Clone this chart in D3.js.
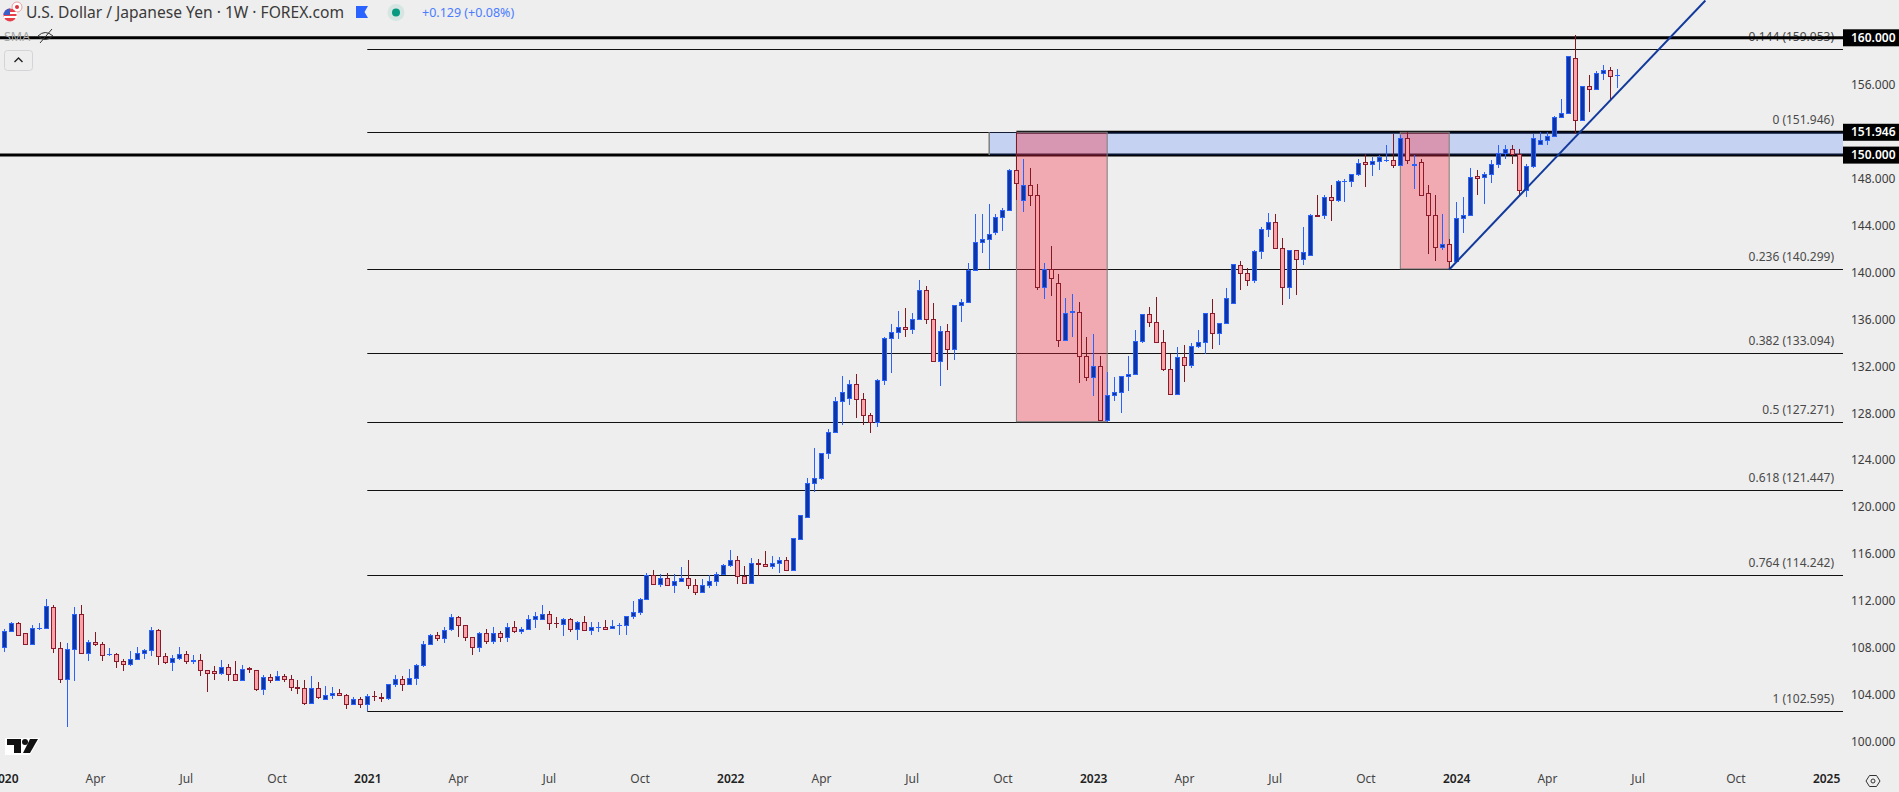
<!DOCTYPE html>
<html>
<head>
<meta charset="utf-8">
<script src="https://d3js.org/d3.v7.min.js"></script>
<style>
html, body { margin: 0; padding: 0; background: #eeeeee; overflow: hidden; }
text { font-family: "Noto Sans", sans-serif; }
</style>
</head>
<body>
<div id="chart-area"></div>
<script>
var width = 1899;
var height = 792;
var axisX = 1843;

// weekly USD/JPY candles, one entry per bar
var opens = [108.05,109.41,110.12,109.27,108.33,109.67,109.67,111.49,107.99,105.32,
107.90,110.89,107.53,108.50,108.33,107.45,107.48,106.88,106.60,107.02,
107.53,107.82,109.52,107.31,106.77,107.11,107.48,106.88,106.97,106.11,
106.03,105.83,106.37,105.77,105.23,106.26,106.11,104.46,105.49,105.23,
105.60,105.35,104.63,104.58,103.27,104.58,103.61,103.95,104.15,103.98,
103.19,103.64,103.19,103.92,103.81,103.70,104.92,105.32,104.92,105.43,
106.51,108.30,109.10,108.81,109.58,110.63,109.95,108.90,108.05,109.27,
108.56,109.27,108.90,109.78,109.41,109.58,110.43,110.43,110.89,110.15,
110.01,110.46,109.58,110.21,109.50,109.75,109.78,109.67,109.92,109.92,
110.69,111.03,112.14,114.21,113.42,113.96,113.33,113.67,113.96,113.36,
112.73,113.33,113.67,114.27,115.04,115.49,114.13,113.50,115.26,115.15,
114.95,115.21,115.49,114.60,117.26,119.14,122.03,122.46,124.59,126.38,
129.03,129.28,130.50,129.22,127.85,127.23,130.81,134.39,134.90,135.36,
135.16,136.01,138.51,136.04,132.46,135.02,133.45,137.20,137.46,140.22,
142.58,142.83,143.43,144.71,145.33,148.74,146.19,147.47,146.61,138.77,
140.30,139.11,134.25,136.61,136.64,132.89,131.09,132.00,127.43,129.56,
129.82,131.15,131.35,134.16,136.47,135.78,134.08,131.78,129.65,132.80,
132.12,133.74,134.08,136.55,134.85,135.70,137.40,140.64,139.96,139.36,
141.84,143.71,144.31,142.09,138.77,141.92,141.16,141.50,144.91,144.88,
146.44,146.19,147.75,147.78,148.40,149.37,149.23,149.48,149.54,149.60,
149.14,151.47,149.14,149.43,146.78,144.91,142.15,142.43,140.96,144.62,
144.88,148.18,148.12,148.37,149.23,150.16,150.53,150.11,147.04,149.08,
150.93,151.30,151.67,153.23,153.57,158.29,152.95,155.90,155.62,157.01,
157.27,156.79];

var highs = [109.61,110.21,110.21,109.27,109.95,110.15,112.17,111.68,108.53,108.44,
111.51,111.68,108.67,109.38,108.50,108.02,107.56,107.05,107.76,108.10,
107.90,109.81,109.61,107.56,107.42,108.10,107.73,107.42,107.51,106.11,
106.48,106.97,106.62,106.91,106.57,106.40,106.11,105.69,105.77,106.06,
105.77,105.69,105.26,105.29,105.63,105.12,104.75,104.69,104.49,104.07,
103.78,103.78,104.07,104.35,104.12,104.92,105.69,105.60,106.20,106.62,
108.61,109.18,109.38,109.81,110.89,110.75,109.95,108.90,109.38,109.64,
109.81,109.47,110.12,110.32,109.81,110.83,111.09,111.68,111.17,110.66,
110.55,110.55,110.29,110.75,110.23,110.23,110.40,110.40,110.12,110.72,
112.02,112.25,114.38,114.67,114.33,114.38,114.33,114.92,115.52,113.90,
113.90,114.21,114.50,115.15,116.37,115.86,115.01,115.66,115.58,116.29,
115.86,115.78,115.78,117.32,119.36,122.43,125.05,124.62,126.67,129.37,
131.21,130.79,131.36,129.73,128.05,130.92,134.53,135.56,136.75,137.00,
136.55,139.39,138.88,137.43,135.47,135.56,137.23,137.69,140.84,145.02,
144.94,145.87,144.94,145.45,148.83,151.95,149.71,148.86,147.55,140.81,
142.26,139.88,137.86,138.20,137.49,134.53,134.76,132.89,131.52,131.12,
131.18,132.91,135.13,136.47,137.09,137.94,135.13,133.06,133.60,133.77,
134.02,135.10,136.55,137.77,135.70,138.68,140.73,140.93,140.39,141.95,
143.91,145.08,144.94,142.97,141.92,141.92,143.91,144.99,146.56,146.64,
147.41,147.89,148.00,148.40,149.71,150.11,149.88,149.97,150.82,151.81,
151.73,151.95,149.97,149.71,147.49,146.56,144.94,142.89,145.96,146.47,
148.86,148.69,148.60,149.62,150.90,150.82,150.82,150.53,149.20,151.81,
152.01,152.01,153.32,154.80,158.49,160.20,155.90,156.79,157.16,157.72,
157.47,157.38];

var lows = [107.62,109.41,109.07,108.33,108.33,109.55,109.67,107.53,104.98,101.22,
105.15,107.53,106.91,108.19,106.91,107.28,106.31,106.00,106.48,107.02,
107.08,107.33,106.57,106.65,106.06,106.99,106.65,106.65,105.63,104.21,
105.29,105.72,105.15,105.23,105.23,105.83,104.29,104.00,104.98,105.23,
105.06,104.35,104.04,103.16,103.19,103.64,103.61,103.67,103.87,102.82,
103.19,102.90,102.60,103.50,103.36,103.58,104.63,104.35,104.86,104.86,
106.34,108.30,108.61,108.39,109.41,108.95,108.61,107.42,107.62,108.36,
108.36,108.53,108.53,109.30,109.21,109.58,109.69,110.40,109.55,109.69,
109.04,109.38,108.70,109.47,109.13,109.38,109.55,109.64,109.13,109.13,
110.49,110.83,112.11,113.39,113.22,113.30,112.71,113.59,113.05,112.54,
112.73,113.13,113.30,114.24,114.92,113.47,113.47,113.50,114.16,114.92,
114.75,114.41,114.58,114.60,117.26,119.14,121.24,122.26,124.05,126.30,
126.95,128.66,127.55,127.03,126.35,126.86,130.44,131.46,134.28,134.53,
134.79,136.01,135.56,132.46,130.35,131.72,132.57,135.81,137.46,140.22,
141.69,140.33,143.23,143.57,145.33,146.21,145.11,145.70,138.46,137.69,
138.03,133.60,134.14,134.53,130.53,130.78,129.50,127.43,127.23,129.00,
128.05,129.85,131.35,133.94,135.33,134.05,131.58,129.65,129.65,130.64,
131.83,133.54,133.03,133.51,133.77,135.70,137.40,138.46,138.80,139.08,
141.18,143.00,142.09,137.26,137.69,138.11,140.67,141.50,144.71,144.51,
144.42,146.04,145.96,147.32,148.26,147.32,148.18,148.77,149.37,148.86,
149.14,149.20,147.15,146.58,141.61,140.93,141.87,140.25,140.90,143.40,
144.88,146.64,145.87,147.66,148.94,149.71,149.20,146.56,146.47,148.94,
150.93,150.82,151.64,153.23,153.57,151.81,152.89,153.66,155.56,156.36,
154.57,155.76];

var closes = [109.44,110.12,109.07,108.33,109.69,109.69,111.57,107.99,105.32,107.90,
110.89,107.53,108.50,108.30,107.36,107.48,106.85,106.62,107.05,107.56,
107.82,109.52,107.28,106.77,107.14,107.48,106.85,106.97,106.09,105.86,
105.83,106.37,105.77,105.23,106.20,106.20,104.46,105.49,105.26,105.60,
105.32,104.63,104.58,103.27,104.58,103.78,103.98,104.15,103.95,103.19,
103.64,103.19,103.90,103.87,103.75,104.92,105.32,104.92,105.43,106.51,
108.33,109.10,108.81,109.52,110.63,109.92,108.90,108.05,109.27,108.56,
109.27,108.90,109.78,109.41,109.61,110.46,110.72,110.89,110.09,110.09,
110.46,109.58,110.21,109.50,109.78,109.78,109.64,109.86,109.98,110.72,
111.06,112.17,114.21,113.42,113.96,113.33,113.70,113.96,113.33,112.73,
113.36,113.70,114.30,115.07,115.49,114.10,113.50,115.24,115.18,114.95,
115.24,115.49,114.61,117.32,119.36,122.06,122.49,124.62,126.41,129.05,
129.82,130.50,129.20,127.83,127.23,130.84,134.42,134.93,135.36,135.16,
136.04,138.51,136.01,132.46,135.02,133.45,137.23,137.49,140.22,142.60,
142.86,143.29,144.74,145.33,148.74,147.64,147.47,146.61,138.77,140.27,
139.54,134.25,136.55,136.67,132.89,131.09,132.00,127.43,129.56,129.82,
131.15,131.35,134.16,136.47,135.78,134.08,131.78,129.65,132.80,132.12,
133.74,134.08,136.55,134.85,135.70,137.83,140.73,139.93,139.36,141.84,
143.71,144.31,142.09,138.77,141.92,141.16,141.75,144.91,144.85,146.44,
146.19,147.81,147.83,148.40,149.34,149.28,149.51,149.85,149.60,149.14,
151.47,149.57,149.20,146.58,144.88,142.15,142.43,140.96,144.65,144.91,
148.15,148.09,148.40,149.26,150.19,150.53,150.11,147.04,149.08,151.47,
151.30,151.64,153.26,153.60,158.46,153.00,155.90,155.62,157.01,157.27,
156.73,156.84];

// fib retracement levels
var fibRatios = ["0.144", "0", "0.236", "0.382", "0.5", "0.618", "0.764", "1"];
var fibPrices = [159.053, 151.946, 140.299, 133.094, 127.271, 121.447, 114.242, 102.595];
var fibStartBar = 52;

// thick horizontal levels and their axis tags
var levelPrices = [160, 151.946, 150];
var levelStartBars = [null, 145, null];

// shaded boxes
var zoneStartBar = 141.1;
var zonePrices = [151.946, 150];
var boxStartBars = [145, 200];
var boxEndBars = [158, 207];
var boxLowPrices = [127.271, 140.299];
var boxTopPrice = 151.946;

// rising trendline
var trendBars = [207, 243.7];
var trendPrices = [140.25, 163.18];

// axes
var priceTicks = [100,104,108,112,116,120,124,128,132,136,140,144,148,156];
var timeBars = [0,13,26,39,52,65,78,91,104,117,130,143,156,169,182,195,208,221,234,248,261];
var timeLabels = ["2020","Apr","Jul","Oct","2021","Apr","Jul","Oct","2022","Apr","Jul","Oct","2023","Apr","Jul","Oct","2024","Apr","Jul","Oct","2025"];

var x = d3.scaleLinear().domain([0, 260]).range([4.33, 1819.13]);
var y = d3.scaleLinear().domain([100, 160]).range([741.6, 37.8]);

var svg = d3.select("#chart-area")
	.append("svg")
		.attr("width", width)
		.attr("height", height)
		.style("display", "block")
		.style("background-color", "#eeeeee");

svg.append("defs").append("clipPath").attr("id", "pane")
	.append("rect").attr("width", axisX).attr("height", 765);

var pane = svg.append("g").attr("clip-path", "url(#pane)");

// snap to the pixel grid like a canvas chart does
function py(p) { return Math.round(y(p)) + 0.5; }

// fib lines and their labels
pane.selectAll(".fib").data(fibPrices).enter().append("line")
	.attr("class", "fib")
	.attr("x1", x(fibStartBar))
	.attr("x2", axisX)
	.attr("y1", (d) => { return py(d); })
	.attr("y2", (d) => { return py(d); })
	.attr("stroke", "#111")
	.attr("stroke-width", 1);

pane.selectAll(".fib-label").data(fibPrices).enter().append("text")
	.attr("class", "fib-label")
	.attr("x", 1834)
	.attr("y", (d) => { return y(d) - 8; })
	.attr("text-anchor", "end")
	.attr("font-size", "12px")
	.attr("fill", "#4a4a4a")
	.text((d, i) => { return fibRatios[i] + " (" + d.toFixed(3) + ")"; });

// thick levels
pane.selectAll(".level").data(levelPrices).enter().append("line")
	.attr("class", "level")
	.attr("x1", (d, i) => { return levelStartBars[i] === null ? 0 : x(levelStartBars[i]); })
	.attr("x2", axisX)
	.attr("y1", (d) => { return y(d); })
	.attr("y2", (d) => { return y(d); })
	.attr("stroke", "#000")
	.attr("stroke-width", 3);

// blue zone
pane.append("rect")
	.attr("x", x(zoneStartBar))
	.attr("y", y(zonePrices[0]))
	.attr("width", axisX - x(zoneStartBar))
	.attr("height", y(zonePrices[1]) - y(zonePrices[0]))
	.attr("fill", "rgba(41,98,255,0.2)");
pane.append("line")
	.attr("x1", x(zoneStartBar))
	.attr("x2", x(zoneStartBar))
	.attr("y1", y(zonePrices[0]))
	.attr("y2", y(zonePrices[1]))
	.attr("stroke", "#808080")
	.attr("stroke-width", 1.5);

// red boxes
pane.selectAll(".box").data(boxStartBars).enter().append("rect")
	.attr("class", "box")
	.attr("x", (d) => { return x(d); })
	.attr("y", y(boxTopPrice))
	.attr("width", (d, i) => { return x(boxEndBars[i]) - x(d); })
	.attr("height", (d, i) => { return y(boxLowPrices[i]) - y(boxTopPrice); })
	.attr("fill", "rgba(246,44,64,0.35)")
	.attr("stroke", "#7d7d7d")
	.attr("stroke-width", 1);

// candles
var bars = d3.range(opens.length);
var candles = pane.selectAll(".candle").data(bars).enter().append("g")
	.attr("class", "candle")
	.attr("shape-rendering", "crispEdges");

function isUp(i) { return closes[i] >= opens[i]; }
function cx(i) { return Math.round(x(i)); }

candles.append("rect")
	.attr("x", (i) => { return cx(i); })
	.attr("y", (i) => { return Math.round(y(highs[i])); })
	.attr("width", 1)
	.attr("height", (i) => { return Math.max(1, Math.round(y(lows[i])) - Math.round(y(highs[i]))); })
	.attr("fill", (i) => { return isUp(i) ? "#2962ff" : "#801922"; });

function bodyTop(i) { return Math.round(y(Math.max(opens[i], closes[i]))); }
function bodyH(i) { return Math.max(1, Math.round(y(Math.min(opens[i], closes[i]))) - bodyTop(i) + 1); }

candles.append("rect")
	.attr("x", (i) => { return cx(i) - 2; })
	.attr("y", bodyTop)
	.attr("width", 5)
	.attr("height", bodyH)
	.attr("fill", (i) => { return isUp(i) ? "#2962ff" : "#8b1a2b"; });

candles.filter((i) => { return bodyH(i) > 2; }).append("rect")
	.attr("x", (i) => { return cx(i) - 1; })
	.attr("y", (i) => { return bodyTop(i) + 1; })
	.attr("width", 3)
	.attr("height", (i) => { return bodyH(i) - 2; })
	.attr("fill", (i) => { return isUp(i) ? "#0f35a3" : "#f7a3a8"; });

// trendline
pane.append("line")
	.attr("x1", x(trendBars[0]))
	.attr("y1", y(trendPrices[0]))
	.attr("x2", x(trendBars[1]))
	.attr("y2", y(trendPrices[1]))
	.attr("stroke", "#123a9c")
	.attr("stroke-width", 2);

// price axis
var rightAxis = d3.axisRight(y)
	.tickValues(priceTicks)
	.tickSize(0)
	.tickPadding(0)
	.tickFormat((d) => { return d.toFixed(3); });
var rightG = svg.append("g")
	.attr("transform", "translate(1851, 0)")
	.call(rightAxis);
rightG.select(".domain").remove();
rightG.selectAll("text")
	.attr("font-size", "12px")
	.attr("font-family", "'Noto Sans', sans-serif")
	.attr("fill", "#3c3c3c");

// black tags on the price axis
var tags = svg.selectAll(".tag").data(levelPrices).enter().append("g").attr("class", "tag");
tags.append("rect")
	.attr("x", axisX)
	.attr("y", (d) => { return y(d) - 8.5; })
	.attr("width", width - axisX)
	.attr("height", 17)
	.attr("fill", "#000");
tags.append("text")
	.attr("x", 1851)
	.attr("y", (d) => { return y(d) + 4; })
	.attr("font-size", "12px")
	.attr("font-weight", 600)
	.attr("fill", "#fff")
	.text((d) => { return d.toFixed(3); });

// time axis
var bottomAxis = d3.axisBottom(x)
	.tickValues(timeBars)
	.tickSize(0)
	.tickPadding(0)
	.tickFormat((d, i) => { return timeLabels[i]; });
var bottomG = svg.append("g")
	.attr("transform", "translate(0, 774)")
	.call(bottomAxis);
bottomG.select(".domain").remove();
bottomG.selectAll("text")
	.attr("font-size", "12px")
	.attr("font-family", "'Noto Sans', sans-serif")
	.attr("font-weight", (d, i) => { return /^\d/.test(timeLabels[i]) ? 600 : 400; })
	.attr("fill", (d, i) => { return /^\d/.test(timeLabels[i]) ? "#222" : "#444"; });

// header
svg.append("text")
	.attr("x", 26).attr("y", 18)
	.attr("font-size", "15.6px")
	.attr("fill", "#3a3a3a")
	.text("U.S. Dollar / Japanese Yen · 1W · FOREX.com");
svg.append("text")
	.attr("x", 422).attr("y", 17)
	.attr("font-size", "12.5px")
	.attr("fill", "#4a7dff")
	.text("+0.129 (+0.08%)");

// flag icon
var flag = svg.append("g");
flag.append("circle").attr("cx", 17).attr("cy", 7).attr("r", 5).attr("fill", "#fff").attr("stroke", "#e8a0a0");
flag.append("circle").attr("cx", 17).attr("cy", 7).attr("r", 2).attr("fill", "#d9363e");
flag.append("circle").attr("cx", 10).attr("cy", 15).attr("r", 6.5).attr("fill", "#e8404a");
flag.append("rect").attr("x", 4).attr("y", 12).attr("width", 13).attr("height", 2).attr("fill", "#fff");
flag.append("rect").attr("x", 4).attr("y", 16).attr("width", 13).attr("height", 2).attr("fill", "#fff");
flag.append("path").attr("d", "M3.5 15 A6.5 6.5 0 0 1 10 8.5 V15 Z").attr("fill", "#3a5fc8");

svg.append("path").attr("d", "M356 6 H368 L364.5 12 L368 18 H356 Z").attr("fill", "#2962ff");
svg.append("circle").attr("cx", 396).attr("cy", 12.5).attr("r", 8.5).attr("fill", "#d5e6e2");
svg.append("circle").attr("cx", 396).attr("cy", 12.5).attr("r", 4).attr("fill", "#089981");

// indicator row (sits under the 160 line in the reference)
svg.append("text")
	.attr("x", 4).attr("y", 41)
	.attr("font-size", "12.5px")
	.attr("fill", "#a8a8a8")
	.text("SMA");
svg.append("path")
	.attr("d", "M38 36 Q45 29 53 36 Q45 43 38 36 M40 43 L52 29")
	.attr("fill", "none")
	.attr("stroke", "#333")
	.attr("stroke-width", 1);

// collapse button
svg.append("rect")
	.attr("x", 4.5).attr("y", 50.5).attr("width", 28).attr("height", 20).attr("rx", 3)
	.attr("fill", "#eeeeee").attr("stroke", "#d4d4d8");
svg.append("path")
	.attr("d", "M14.5 62 L18.5 58 L22.5 62")
	.attr("fill", "none").attr("stroke", "#222").attr("stroke-width", 1.4);

// logo
var logo = svg.append("g").attr("transform", "translate(5, 736)");
logo.append("path").attr("d", "M0 2 H35 L25 19 H0 Z").attr("fill", "#fff");
logo.append("path").attr("d", "M2 3 H16 V17 H9 V9 H2 Z").attr("fill", "#111");
logo.append("circle").attr("cx", 20).attr("cy", 6).attr("r", 3).attr("fill", "#111");
logo.append("path").attr("d", "M25 3 H33 L25 17 H18 Z").attr("fill", "#111");

// settings hexagon
svg.append("path")
	.attr("d", "M1866 781 L1869.5 775.5 H1876.5 L1880 781 L1876.5 786.5 H1869.5 Z")
	.attr("fill", "none").attr("stroke", "#333").attr("stroke-width", 1);
svg.append("circle").attr("cx", 1873).attr("cy", 781).attr("r", 2)
	.attr("fill", "none").attr("stroke", "#333").attr("stroke-width", 1);
</script>
</body>
</html>
